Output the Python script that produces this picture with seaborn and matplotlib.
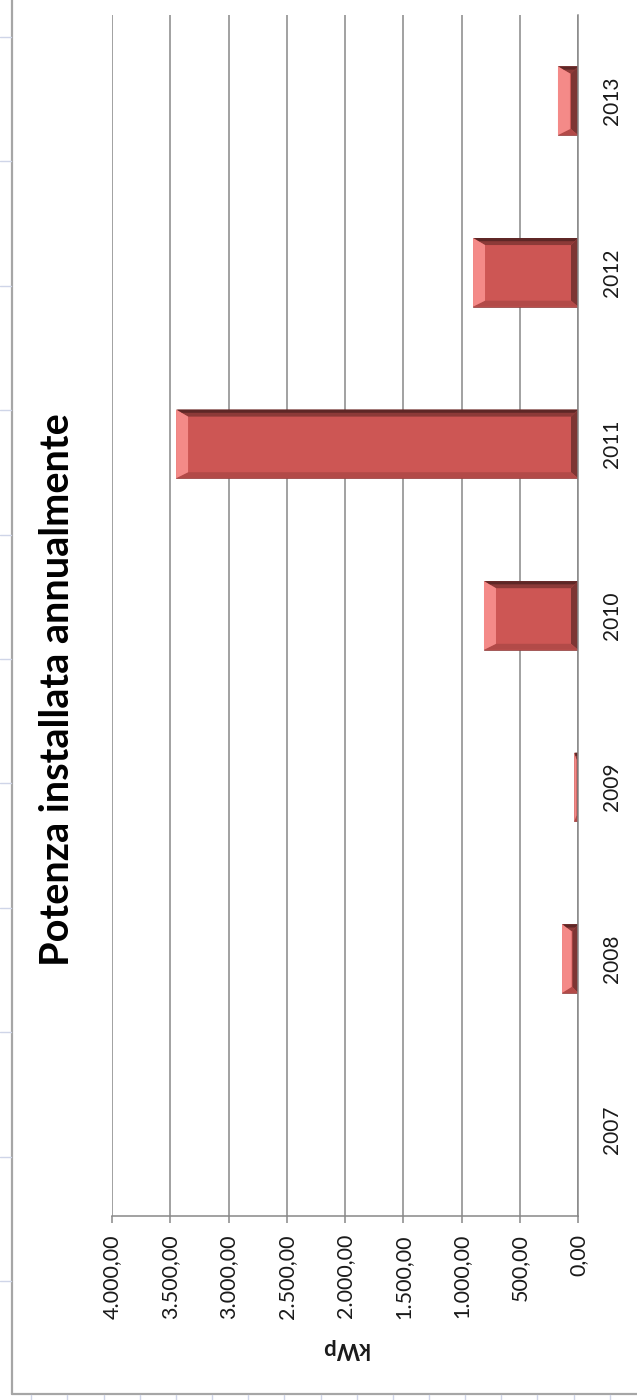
import matplotlib
matplotlib.use("Agg")
import matplotlib.pyplot as plt
import seaborn as sns
import pandas as pd
from matplotlib.patches import Polygon
from matplotlib.lines import Line2D
from matplotlib.transforms import IdentityTransform

# ---- data ----
years = ["2007", "2008", "2009", "2010", "2011", "2012", "2013"]
kwp = [0, 137, 32, 807, 3450, 901, 172]
value_ticks = [0, 500, 1000, 1500, 2000, 2500, 3000, 3500, 4000]
title_text = "Potenza installata annualmente"
value_label = "kWp"

sns.set_theme(style="white")
plt.rcParams["font.family"] = ["Lato", "DejaVu Sans"]

W, H = 637, 1400
fig = plt.figure(figsize=(W / 100, H / 100), dpi=100)
fig.patch.set_facecolor("white")

ax_left, ax_right, ax_top, ax_bottom = 112, 578, 15, 1216
ax = fig.add_axes([ax_left / W, 1 - ax_bottom / H,
                   (ax_right - ax_left) / W, (ax_bottom - ax_top) / H])

df = pd.DataFrame({"year": years, "kwp": kwp})
sns.barplot(data=df, x="kwp", y="year", order=years[::-1], orient="h",
            width=0.4, color="#CD5654", saturation=1, ax=ax,
            edgecolor="#8a3b39", linewidth=0.5, errorbar=None)

ax.set_xlim(4000, 0)
ax.set_ylim(6.5, -0.5)
ax.set_facecolor("white")

grid_c = "#878787"
ax.set_xticks(value_ticks)
ax.xaxis.grid(True, color=grid_c, linewidth=1.1)
ax.yaxis.grid(False)
ax.set_axisbelow(True)

def fmt(v):
    s = f"{v:,.2f}"
    return s.replace(",", "X").replace(".", ",").replace("X", ".")

ax.set_xticklabels([fmt(v) for v in value_ticks], rotation=90, fontsize=15.5,
                   color="#1a1a1a")
ax.tick_params(axis="x", direction="out", length=5, width=1.1, color=grid_c,
               pad=8, bottom=True)

ax.yaxis.tick_right()
ax.tick_params(axis="y", length=0, pad=17, labelsize=15, labelcolor="#1a1a1a")
for lab in ax.get_yticklabels():
    lab.set_rotation(90)
    lab.set_va("center")

ax.set_ylabel("")
ax.set_xlabel(value_label, rotation=180, fontsize=16, fontweight="bold",
              labelpad=14, color="#1a1a1a")

for side in ["top", "left"]:
    ax.spines[side].set_visible(False)
for side in ["bottom", "right"]:
    ax.spines[side].set_visible(True)
    ax.spines[side].set_color(grid_c)
    ax.spines[side].set_linewidth(1.1)

# ---- bevel effect, derived from the bar patches ----
fig.canvas.draw()
tr = ax.transData
for p in list(ax.patches):
    x0, y0 = p.get_x(), p.get_y()
    w, h = p.get_width(), p.get_height()
    (ax1, ay1) = tr.transform((x0, y0))
    (ax2, ay2) = tr.transform((x0 + w, y0 + h))
    xl, xr = min(ax1, ax2), max(ax1, ax2)
    yb, yt = min(ay1, ay2), max(ay1, ay2)
    bw = xr - xl
    if bw < 1:
        continue
    l, r, t, b = 12.0, 7.0, 7.0, 6.0
    s = min(1.0, bw / (l + r + 1))
    l, r = l * s, r * s
    bands = [
        ([(xl, yt), (xr, yt), (xr - r, yt - t), (xl + l, yt - t)], "#8c3a38"),
        ([(xr, yt), (xr, yb), (xr - r, yb + b), (xr - r, yt - t)], "#7d3533"),
        ([(xl, yb), (xr, yb), (xr - r, yb + b), (xl + l, yb + b)], "#b24a48"),
        ([(xl, yt), (xl + l, yt - t), (xl + l, yb + b), (xl, yb)], "#f48a88"),
    ]
    for pts, c in bands:
        poly = Polygon(pts, closed=True, facecolor=c, edgecolor="none",
                       transform=IdentityTransform(), zorder=p.get_zorder() + 0.1)
        ax.add_artist(poly)
    poly = Polygon([(xl + 1, yt), (xr, yt), (xr - r * 0.5, yt - t * 0.45), (xl + l * 0.5, yt - t * 0.45)],
                   closed=True, facecolor="#5e2726", edgecolor="none",
                   transform=IdentityTransform(), zorder=p.get_zorder() + 0.2)
    ax.add_artist(poly)

# ---- title ----
fig.text(58 / W, 1 - 690 / H, title_text, rotation=90, ha="center", va="center",
         fontsize=28.5, fontweight="bold", color="black")

# ---- chart frame and sheet gridline stubs ----
frame_c = "#a6a6a6"
fig.add_artist(Line2D([12 / W, 12 / W], [1 - 1394 / H, 1], color=frame_c,
                      linewidth=1.6, transform=fig.transFigure))
fig.add_artist(Line2D([12 / W, 1], [1 - 1394 / H, 1 - 1394 / H], color=frame_c,
                      linewidth=1.6, transform=fig.transFigure))
stub_c = "#cfd5e8"
ry = 37.0
while ry < 1390:
    fig.add_artist(Line2D([0, 11 / W], [1 - ry / H, 1 - ry / H], color=stub_c,
                          linewidth=1, transform=fig.transFigure))
    ry += 124.4
cx = 31.3
while cx < W:
    fig.add_artist(Line2D([cx / W, cx / W], [0, 1 - 1395 / H], color=stub_c,
                          linewidth=1, transform=fig.transFigure))
    cx += 36.15

fig.savefig("out.png", dpi=100, facecolor="white")
